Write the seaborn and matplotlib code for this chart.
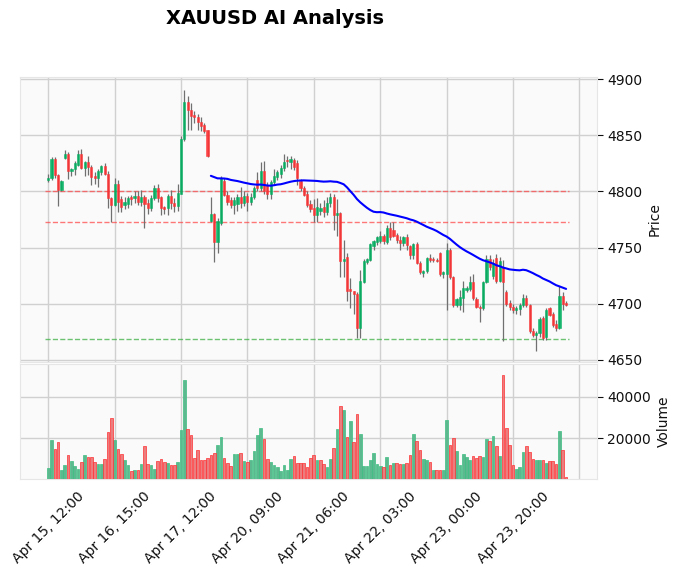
import numpy as np
import pandas as pd
import seaborn as sns
import matplotlib
matplotlib.use("Agg")
import matplotlib.pyplot as plt

# hourly XAUUSD candles
opens = [4810, 4812, 4829, 4815, 4801, 4830, 4833, 4818, 4820, 4824,
         4833, 4821, 4826, 4822, 4814, 4812, 4817, 4823, 4816, 4794,
         4788, 4807, 4793, 4788, 4789, 4795, 4794, 4796, 4791, 4795,
         4790, 4785, 4794, 4803, 4795, 4786, 4785, 4796, 4790, 4787,
         4798, 4847, 4880, 4873, 4868, 4866, 4862, 4859, 4855, 4774,
         4780, 4755, 4772, 4809, 4797, 4792, 4788, 4789, 4795, 4790,
         4796, 4791, 4795, 4810, 4803, 4818, 4806, 4798, 4808, 4813,
         4816, 4821, 4828, 4826, 4828, 4825, 4809, 4803, 4798, 4789,
         4785, 4779, 4783, 4786, 4782, 4790, 4795, 4779, 4781, 4738,
         4742, 4713, 4711, 4709, 4678, 4719, 4737, 4739, 4751, 4755,
         4756, 4760, 4755, 4767, 4766, 4761, 4757, 4754, 4759, 4751,
         4743, 4753, 4736, 4727, 4729, 4741, 4740, 4739, 4745, 4726,
         4726, 4748, 4724, 4699, 4699, 4705, 4712, 4713, 4719, 4704,
         4697, 4696, 4719, 4740, 4725, 4741, 4720, 4733, 4710, 4701,
         4697, 4694, 4695, 4699, 4705, 4699, 4676, 4672, 4674, 4687,
         4670, 4696, 4691, 4682, 4678, 4707, 4701]
highs = [4816, 4831, 4831, 4816, 4810, 4837, 4835, 4821, 4827, 4837,
         4838, 4827, 4832, 4824, 4817, 4820, 4824, 4825, 4818, 4795,
         4812, 4810, 4796, 4795, 4796, 4797, 4800, 4800, 4801, 4797,
         4793, 4797, 4806, 4807, 4796, 4787, 4798, 4801, 4794, 4807,
         4849, 4890, 4885, 4879, 4872, 4869, 4866, 4861, 4855, 4795,
         4781, 4776, 4814, 4812, 4800, 4795, 4795, 4798, 4804, 4800,
         4799, 4799, 4805, 4817, 4826, 4827, 4808, 4810, 4820, 4819,
         4824, 4833, 4832, 4832, 4830, 4828, 4811, 4805, 4800, 4792,
         4793, 4794, 4790, 4792, 4795, 4799, 4798, 4793, 4782, 4757,
         4745, 4723, 4711, 4710, 4730, 4740, 4741, 4754, 4757, 4760,
         4765, 4762, 4770, 4773, 4773, 4763, 4760, 4760, 4762, 4752,
         4754, 4755, 4738, 4730, 4742, 4744, 4742, 4741, 4746, 4729,
         4754, 4750, 4725, 4705, 4712, 4720, 4716, 4725, 4726, 4706,
         4699, 4720, 4743, 4743, 4740, 4744, 4742, 4739, 4712, 4703,
         4700, 4698, 4701, 4709, 4708, 4700, 4678, 4676, 4688, 4689,
         4696, 4697, 4693, 4685, 4716, 4710, 4702]
lows = [4808, 4810, 4812, 4787, 4800, 4829, 4811, 4814, 4815, 4823,
        4820, 4814, 4815, 4806, 4807, 4804, 4815, 4815, 4785, 4773,
        4787, 4782, 4782, 4784, 4785, 4788, 4790, 4788, 4787, 4767,
        4780, 4783, 4792, 4791, 4779, 4780, 4779, 4784, 4782, 4783,
        4798, 4845, 4855, 4855, 4861, 4855, 4854, 4852, 4831, 4773,
        4737, 4745, 4770, 4796, 4788, 4785, 4780, 4783, 4785, 4787,
        4783, 4788, 4793, 4800, 4800, 4798, 4793, 4793, 4806, 4810,
        4812, 4818, 4822, 4820, 4819, 4806, 4800, 4796, 4786, 4782,
        4773, 4773, 4779, 4777, 4779, 4786, 4766, 4760, 4724, 4724,
        4702, 4696, 4691, 4669, 4669, 4718, 4735, 4738, 4748, 4752,
        4754, 4753, 4753, 4757, 4759, 4754, 4748, 4751, 4748, 4740,
        4740, 4735, 4726, 4724, 4727, 4737, 4737, 4737, 4725, 4723,
        4694, 4722, 4697, 4697, 4694, 4693, 4710, 4711, 4703, 4696,
        4684, 4694, 4718, 4730, 4722, 4718, 4719, 4667, 4698, 4694,
        4692, 4691, 4690, 4697, 4697, 4674, 4670, 4658, 4670, 4668,
        4668, 4689, 4679, 4676, 4677, 4694, 4698]
closes = [4812, 4829, 4815, 4801, 4809, 4833, 4818, 4820, 4825, 4833,
          4821, 4826, 4822, 4813, 4812, 4818, 4823, 4816, 4794, 4788,
          4807, 4791, 4786, 4791, 4794, 4793, 4796, 4791, 4795, 4789,
          4785, 4794, 4803, 4794, 4785, 4784, 4796, 4790, 4787, 4799,
          4847, 4880, 4873, 4867, 4866, 4862, 4858, 4854, 4832, 4780,
          4755, 4774, 4812, 4797, 4791, 4788, 4792, 4795, 4790, 4796,
          4791, 4795, 4803, 4803, 4818, 4800, 4798, 4808, 4814, 4817,
          4821, 4826, 4827, 4829, 4822, 4812, 4803, 4797, 4788, 4784,
          4779, 4786, 4785, 4782, 4790, 4795, 4779, 4781, 4738, 4740,
          4711, 4711, 4709, 4678, 4720, 4738, 4740, 4753, 4756, 4759,
          4760, 4756, 4767, 4759, 4760, 4757, 4754, 4759, 4752, 4743,
          4753, 4736, 4728, 4729, 4741, 4739, 4739, 4738, 4726, 4728,
          4748, 4724, 4699, 4704, 4706, 4714, 4714, 4719, 4705, 4697,
          4696, 4719, 4740, 4733, 4736, 4720, 4738, 4719, 4700, 4697,
          4694, 4696, 4699, 4705, 4699, 4676, 4672, 4674, 4686, 4669,
          4694, 4690, 4681, 4678, 4707, 4700, 4699]
volumes = [5900, 19200, 14900, 18100, 4900, 7300, 12100, 9200, 6700, 5400,
           8600, 12100, 11100, 10800, 8600, 7800, 7800, 10200, 23000, 29700,
           19200, 14900, 12500, 9700, 7300, 4400, 4900, 4900, 7800, 16300,
           7800, 7300, 5400, 9200, 10200, 8700, 8200, 7300, 7300, 8700,
           24000, 47800, 24400, 21600, 10600, 14400, 9700, 9700, 10600, 12100,
           13000, 16800, 20600, 10600, 8200, 6800, 12500, 12500, 13000, 9200,
           8700, 9700, 14000, 21600, 24900, 19700, 10200, 8700, 7300, 6300,
           4400, 7300, 4900, 10200, 11600, 8200, 8200, 8200, 6300, 10600,
           12100, 9700, 9700, 7800, 6300, 10200, 15400, 24400, 35400, 33500,
           20600, 28200, 18200, 31600, 22100, 6800, 6800, 9700, 13000, 7800,
           6800, 6300, 11100, 7300, 8200, 8200, 7800, 7800, 8200, 12100,
           22100, 18700, 14400, 10200, 9700, 8700, 4900, 4900, 4900, 4900,
           28700, 16800, 20200, 14000, 7300, 12500, 11100, 9700, 11600, 10600,
           11600, 11100, 19700, 18700, 21100, 16300, 11600, 50600, 24900, 16800,
           7300, 5400, 6300, 13500, 16300, 13500, 10200, 9700, 9700, 9700,
           8200, 9200, 9200, 7800, 23500, 14400, 1600]
tick_labels = ["Apr 15, 12:00", "Apr 16, 15:00", "Apr 17, 12:00", "Apr 20, 09:00",
               "Apr 21, 06:00", "Apr 22, 03:00", "Apr 23, 00:00", "Apr 23, 20:00"]
resistance_levels = [4800.5, 4773.0]
support_levels = [4668.7]

df = pd.DataFrame({"open": opens, "high": highs, "low": lows,
                   "close": closes, "volume": volumes})
df["idx"] = np.arange(len(df))
df["mav"] = df["close"].rolling(50).mean()
df["vol_dir"] = np.where(df["close"].diff().fillna(0) >= 0, "up", "down")
n = len(df)

sns.set_style("whitegrid", {"axes.facecolor": "#fafafa", "grid.color": "#d0d0d0",
                            "axes.edgecolor": "#e6e6e6", "text.color": "#101010",
                            "font.family": "DejaVu Sans"})

fig = plt.figure(figsize=(6.77, 5.76), dpi=100)
ax = fig.add_axes([0.0295, 0.3715, 0.8523, 0.4948])
axv = fig.add_axes([0.0295, 0.1684, 0.8523, 0.1997], sharex=ax)

up = df["close"] >= df["open"]
body_col = np.where(up, "#00b060", "#fe3032")

# wicks and candle bodies
ax.vlines(df["idx"], df["low"], df["high"], color="#707070", lw=0.9, zorder=2)
body_h = (df["close"] - df["open"]).abs().clip(lower=0.4)
ax.bar(df["idx"], body_h, bottom=df[["open", "close"]].min(axis=1), width=0.65,
       color=body_col, edgecolor=body_col, linewidth=0.4, alpha=0.9, zorder=3)

# moving average
sns.lineplot(data=df, x="idx", y="mav", color="blue", lw=1.5, ax=ax, zorder=4)

for lvl in resistance_levels:
    ax.hlines(lvl, -1, n, colors="#ff4040", linestyles="--", lw=1, alpha=0.7, zorder=1)
for lvl in support_levels:
    ax.hlines(lvl, -1, n, colors="#3cb043", linestyles="--", lw=1, alpha=0.75, zorder=1)

# volume
sns.barplot(data=df, x="idx", y="volume", hue="vol_dir", native_scale=True,
            palette={"up": "#4dc790", "down": "#fd6b6c"}, dodge=False, width=0.8,
            errorbar=None, legend=False, ax=axv, zorder=3)
for p in axv.patches:
    fc = p.get_facecolor()
    p.set_edgecolor("#fe3032" if fc[0] > 0.9 else "#3cbf80")
    p.set_linewidth(0.5)

ax.set_xlim(-8.5, 165.3)
ax.set_ylim(4648, 4902)
ax.set_yticks([4650, 4700, 4750, 4800, 4850, 4900])
axv.set_ylim(0.3 * min(volumes), 1.1 * max(volumes))
axv.set_yticks([20000, 40000])
axv.set_yticklabels(["20000", "40000"])

axv.set_xticks(list(range(0, 161, 20)))
axv.set_xticklabels(tick_labels + [""], rotation=45, ha="center")
ax.tick_params(axis="x", labelbottom=False, length=0)
axv.tick_params(axis="x", length=4, color="#101010", labelsize=10, labelcolor="#101010")

for a, lab in [(ax, "Price"), (axv, "Volume")]:
    a.yaxis.tick_right()
    a.yaxis.set_label_position("right")
    a.tick_params(axis="y", right=True, left=False, length=4, color="#101010",
                  labelsize=10, labelcolor="#101010")
    a.set_ylabel(lab, fontsize=10, color="#101010")
    a.set_xlabel("")
    a.grid(True, color="#d0d0d0", lw=1)
    for s in a.spines.values():
        s.set_color("#e6e6e6")

fig.text(275 / 677, 1 - 18 / 576, "XAUUSD AI Analysis", ha="center", va="center",
         fontsize=14, fontweight="bold", color="black")

fig.savefig("out.png", dpi=100)
